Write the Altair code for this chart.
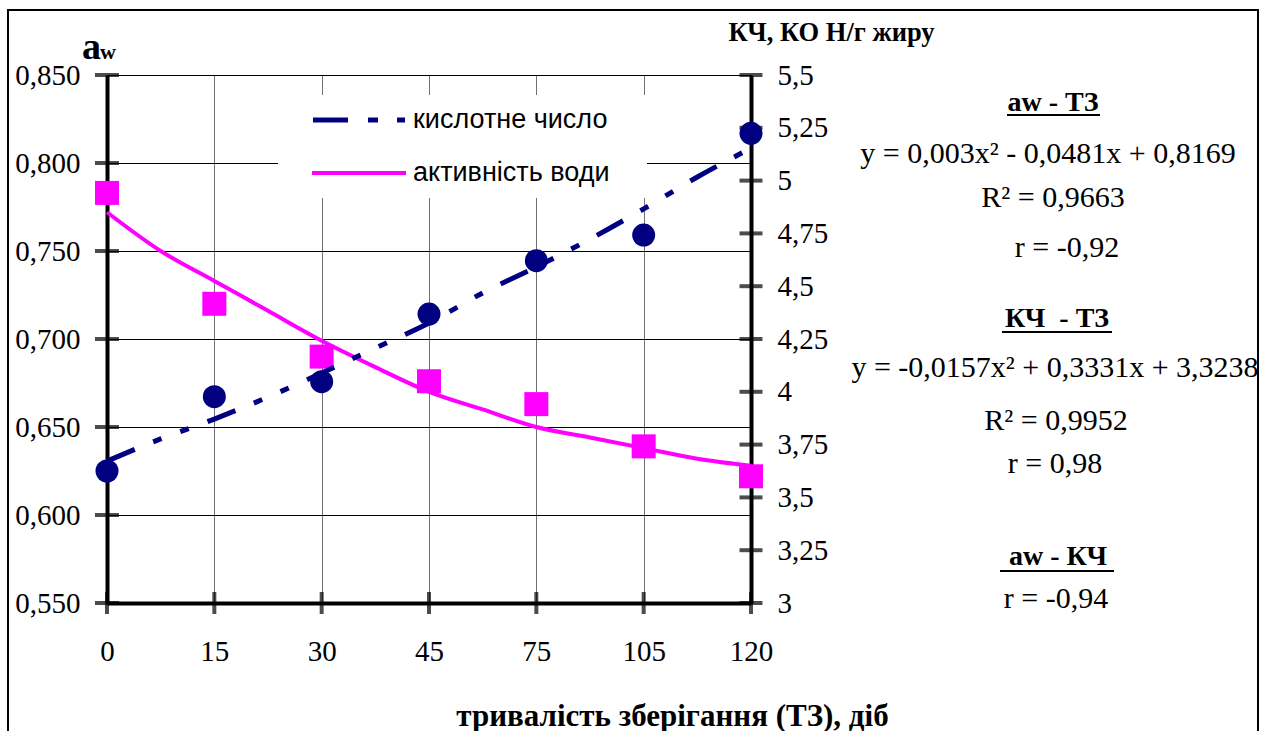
import json
import altair as alt
import pandas as pd

# ---------------- data ----------------
days = ["0", "15", "30", "45", "75", "105", "120"]
aw_points = [0.783, 0.720, 0.690, 0.676, 0.663, 0.639, 0.622]
kch_points = [3.625, 3.977, 4.048, 4.368, 4.621, 4.742, 5.224]

trend_pos = [0, 0.5, 1, 1.5, 2, 2.5, 3, 3.5, 4, 4.5, 5, 5.5, 6]
aw_trend = [0.772, 0.750, 0.733, 0.716, 0.699, 0.684, 0.670, 0.660, 0.650, 0.644, 0.638, 0.632, 0.628]
kch_trend = [3.672, 3.777, 3.871, 3.975, 4.089, 4.207, 4.326, 4.468, 4.591, 4.723, 4.866, 5.017, 5.154]

aw_ticks = [0.55, 0.60, 0.65, 0.70, 0.75, 0.80, 0.85]
kch_ticks = [3.0, 3.25, 3.5, 3.75, 4.0, 4.25, 4.5, 4.75, 5.0, 5.25, 5.5]

series_names = ["кислотне число", "активність води"]

# ---------------- styling ----------------
SERIF = "Liberation Serif"
SANS = "Liberation Sans"
MAGENTA = "#FF00FF"
NAVY = "#000080"

df_pts = pd.DataFrame({"pos": list(range(len(days))), "aw": aw_points, "kch": kch_points})
df_trend = pd.DataFrame({"pos": trend_pos, "aw": aw_trend, "kch": kch_trend})
df_awticks = pd.DataFrame({"pos": [0] * len(aw_ticks), "aw": aw_ticks})
df_kchticks = pd.DataFrame({"pos": [len(days) - 1] * len(kch_ticks), "kch": kch_ticks})
df_xticks = pd.DataFrame({"pos": list(range(len(days))), "aw": [aw_ticks[0]] * len(days)})

x_axis = alt.Axis(
    values=list(range(len(days))),
    labelExpr=json.dumps(days) + "[datum.value]",
    grid=True, gridColor="#707070", gridWidth=1,
    ticks=False, tickSize=0,
    domainColor="black", domainWidth=4,
    labelFont=SERIF, labelFontSize=29, labelColor="black",
    labelPadding=48, labelBaseline="middle", labelFlush=False, labelOverlap=False,
    title="тривалість зберігання (ТЗ), діб",
    titleFont=SERIF, titleFontSize=31, titleFontWeight="bold", titleColor="black",
    titleX=565, titleY=122, titleAlign="center", titleBaseline="alphabetic",
)
x_enc = alt.X("pos:Q", scale=alt.Scale(domain=[0, len(days) - 1], nice=False, zero=False), axis=x_axis)

left_axis = alt.Axis(
    orient="left", values=aw_ticks,
    labelExpr="replace(format(datum.value, '.3f'), '.', ',')",
    grid=True, gridColor="black", gridWidth=1,
    ticks=False, tickSize=0,
    domainColor="black", domainWidth=4,
    labelFont=SERIF, labelFontSize=29, labelColor="black",
    labelPadding=27, labelFlush=False, labelOverlap=False,
    title=None,
)
y_left = alt.Y("aw:Q", scale=alt.Scale(domain=[0.55, 0.85], nice=False, zero=False), axis=left_axis)

right_axis = alt.Axis(
    orient="right", values=kch_ticks,
    labelExpr="replace(format(datum.value, '.2~f'), '.', ',')",
    grid=False, ticks=False, tickSize=0,
    domainColor="black", domainWidth=4,
    labelFont=SERIF, labelFontSize=29, labelColor="black",
    labelPadding=26, labelFlush=False, labelOverlap=False,
    title="КЧ, КО Н/г жиру", titleAngle=0, titleX=80, titleY=-35,
    titleAlign="center", titleBaseline="alphabetic",
    titleFont=SERIF, titleFontSize=26.5, titleFontWeight="bold", titleColor="black",
)
y_right = alt.Y("kch:Q", scale=alt.Scale(domain=[3, 5.5], nice=False, zero=False), axis=right_axis)

# ---------------- left (aw) group ----------------
aw_line = alt.Chart(df_trend).mark_line(color=MAGENTA, strokeWidth=4, interpolate="monotone").encode(x=x_enc, y=y_left)
aw_sq = alt.Chart(df_pts).mark_point(shape="square", filled=True, size=576, color=MAGENTA, opacity=1).encode(x=x_enc, y=y_left)
aw_tk = alt.Chart(df_awticks).mark_tick(orient="horizontal", size=24, thickness=4, color="black").encode(x=x_enc, y=y_left)
x_tk = alt.Chart(df_xticks).mark_tick(orient="vertical", size=22, thickness=4, color="black").encode(x=x_enc, y=y_left)
left = alt.layer(aw_tk, x_tk, aw_line, aw_sq)

# ---------------- right (КЧ) group ----------------
kch_line = alt.Chart(df_trend).mark_line(
    color=NAVY, strokeWidth=5, strokeDash=[30, 20, 9, 20, 9, 20], strokeCap="butt", interpolate="monotone"
).encode(x=x_enc, y=y_right)
kch_pt = alt.Chart(df_pts).mark_circle(size=529, color=NAVY, opacity=1).encode(x=x_enc, y=y_right)
kch_tk = alt.Chart(df_kchticks).mark_tick(orient="horizontal", size=23, thickness=4, color="black").encode(x=x_enc, y=y_right)
right = alt.layer(kch_tk, kch_line, kch_pt)

# ---------------- annotations ----------------
one = pd.DataFrame({"k": [0]})


def txt(s, x, y, size, bold=False, font=SERIF, align="center", baseline="alphabetic"):
    return alt.Chart(one).mark_text(
        text=s, font=font, fontSize=size, fontWeight="bold" if bold else "normal",
        align=align, baseline=baseline, color="black"
    ).encode(x=alt.value(x), y=alt.value(y))


def hline(x1, x2, y, color="black", width=2, dash=None):
    kw = dict(color=color, strokeWidth=width, strokeCap="butt")
    if dash:
        kw["strokeDash"] = dash
    return alt.Chart(one).mark_rule(**kw).encode(x=alt.value(x1), x2=alt.value(x2), y=alt.value(y))


border = alt.Chart(one).mark_rect(fill=None, stroke="black", strokeWidth=2).encode(
    x=alt.value(-99), x2=alt.value(1151), y=alt.value(-65), y2=alt.value(700)
)
legend_bg = alt.Chart(one).mark_rect(fill="white", stroke=None).encode(
    x=alt.value(171), x2=alt.value(540), y=alt.value(20), y2=alt.value(123)
)

annot = [
    border,
    legend_bg,
    hline(206, 298, 45, color=NAVY, width=5, dash=[35, 20, 10, 19, 8, 100]),
    hline(205, 299, 98, color=MAGENTA, width=4),
    txt(series_names[0], 306, 45, 27, font=SANS, align="left", baseline="middle"),
    txt(series_names[1], 306, 98, 27, font=SANS, align="left", baseline="middle"),
    txt("a", -25, -16, 38, bold=True, align="left"),
    txt("w", -7, -16, 22, bold=True, align="left"),
    txt("aw - ТЗ", 946, 36, 28, bold=True),
    hline(900, 993, 40),
    txt("y = 0,003x² - 0,0481x + 0,8169", 941, 88, 30),
    txt("R² = 0,9663", 946, 132, 30),
    txt("r = -0,92", 960, 182, 30),
    txt("КЧ\u00a0 - ТЗ", 950, 252, 28, bold=True),
    hline(895, 1005, 257),
    txt("y = -0,0157x² + 0,3331x + 3,3238", 948, 302, 30),
    txt("R² = 0,9952", 949, 355, 30),
    txt("r = 0,98", 948, 398, 30),
    txt("aw - КЧ", 951, 490, 28, bold=True),
    hline(893, 1007, 496),
    txt("r = -0,94", 949, 533, 30),
]

chart = alt.layer(left, right, *annot).resolve_scale(y="independent").properties(
    width=644, height=528,
    padding={"left": 107, "top": 75, "right": 512, "bottom": 128},
    autosize="none",
    background="white",
).configure_view(stroke=None)

chart.save("out.html", embed_options={"renderer": "svg", "actions": False})
